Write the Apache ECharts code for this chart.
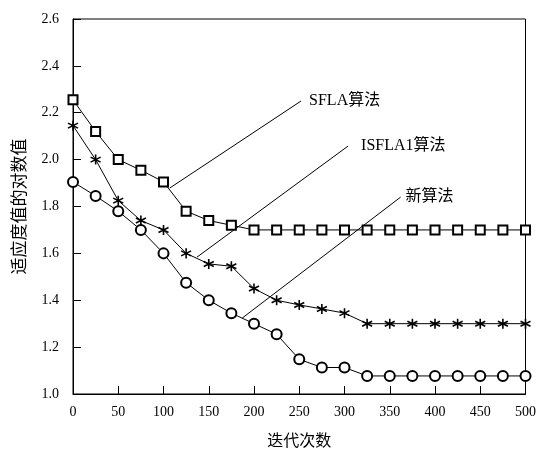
<!DOCTYPE html>
<html>
<head>
<meta charset="utf-8">
<script src="https://cdn.jsdelivr.net/npm/echarts@6/dist/echarts.min.js"></script>
<style>html,body{margin:0;padding:0;background:#fff}#c{width:539px;height:455px}</style>
</head>
<body>
<div id="c"></div>
<script>
var iterations = [0,25,50,75,100,125,150,175,200,225,250,275,300,325,350,375,400,425,450,475,500];
var sflaValues = [2.255,2.12,2.0,1.955,1.905,1.78,1.74,1.72,1.70,1.70,1.70,1.70,1.70,1.70,1.70,1.70,1.70,1.70,1.70,1.70,1.70];
var isflaValues = [2.145,2.0,1.825,1.74,1.70,1.60,1.555,1.545,1.45,1.40,1.38,1.363,1.345,1.30,1.30,1.30,1.30,1.30,1.30,1.30,1.30];
var newValues = [1.905,1.845,1.78,1.70,1.60,1.475,1.40,1.345,1.30,1.255,1.148,1.113,1.113,1.077,1.077,1.077,1.077,1.077,1.077,1.077,1.077];
var seriesNames = ['SFLA算法','ISFLA1算法','新算法'];
var xTicks = [0,50,100,150,200,250,300,350,400,450,500];
var yTicks = [1.0,1.2,1.4,1.6,1.8,2.0,2.2,2.4,2.6];
// annotation leader lines: [start x, start y, end x, end y]
var annSFLA = [107,1.879,252,2.25];
var annISFLA = [137,1.584,304,2.058];
var annNew = [187,1.324,362,1.84];

var FONT = '"Liberation Serif","Noto Sans CJK SC",serif';
function pairs(xs, ys){ return xs.map(function(x,i){return [x, ys[i]];}); }
function ann(a, name, gap){
  return {
    markLine: {silent:true, symbol:['none','none'], animation:false,
      lineStyle:{color:'#000',width:1,type:'solid'}, label:{show:false},
      data:[[{coord:[a[0],a[1]]},{coord:[a[2],a[3]]}]]},
    markPoint: {silent:true, symbol:'circle', symbolSize:0, animation:false,
      data:[{coord:[a[2],a[3]], value:name}],
      label:{show:true, position:'right', distance:gap, formatter:name,
        color:'#000', fontFamily:FONT, fontSize:16}}
  };
}
var starPath = 'path://M0,-6L0,6M-5.2,-3L5.2,3M-5.2,3L5.2,-3';
var base = {type:'line', lineStyle:{color:'#000',width:1}, itemStyle:{color:'#000',borderColor:'#000',borderWidth:1}, animation:false, z:3};
var s1 = Object.assign({}, base, {name:seriesNames[0], symbol:'emptyRect', symbolSize:9, data:pairs(iterations,sflaValues)}, ann(annSFLA, seriesNames[0], 8));
var s2 = Object.assign({}, base, {name:seriesNames[1], symbol:starPath, symbolSize:10, itemStyle:{color:'#000',borderColor:'#000',borderWidth:1.6}, data:pairs(iterations,isflaValues)}, ann(annISFLA, seriesNames[1], 13));
var s3 = Object.assign({}, base, {name:seriesNames[2], symbol:'emptyCircle', symbolSize:10, data:pairs(iterations,newValues)}, ann(annNew, seriesNames[2], 5));

var chart = echarts.init(document.getElementById('c'), null, {renderer:'canvas'});
chart.setOption({
  backgroundColor:'#fff',
  animation:false,
  grid:{left:73, right:12, top:19, bottom:61, show:true, borderColor:'#000', borderWidth:1, backgroundColor:'transparent'},
  xAxis:{type:'value', min:xTicks[0], max:xTicks[xTicks.length-1], interval:xTicks[1]-xTicks[0],
    name:'迭代次数', nameLocation:'middle', nameGap:40,
    nameTextStyle:{color:'#000', fontFamily:FONT, fontSize:16},
    axisLine:{lineStyle:{color:'#000',width:1}},
    axisTick:{inside:true, length:8, lineStyle:{color:'#000'}},
    axisLabel:{color:'#000', fontFamily:FONT, fontSize:14, margin:11},
    splitLine:{show:false}},
  yAxis:{type:'value', min:yTicks[0], max:yTicks[yTicks.length-1], interval:0.2,
    name:'适应度值的对数值', nameLocation:'middle', nameGap:44,
    nameTextStyle:{color:'#000', fontFamily:FONT, fontSize:17},
    axisLine:{lineStyle:{color:'#000',width:1}},
    axisTick:{inside:true, length:8, lineStyle:{color:'#000'}},
    axisLabel:{color:'#000', fontFamily:FONT, fontSize:14, margin:14, formatter:function(v){return v.toFixed(1);}},
    splitLine:{show:false}},
  series:[s1,s2,s3]
});
</script>
</body>
</html>
